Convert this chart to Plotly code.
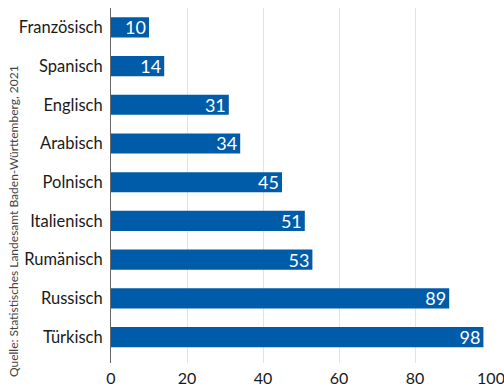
import plotly.graph_objects as go

languages = ["Französisch", "Spanisch", "Englisch", "Arabisch", "Polnisch",
             "Italienisch", "Rumänisch", "Russisch", "Türkisch"]
values = [10, 14, 31, 34, 45, 51, 53, 89, 98]
tick_vals = [0, 20, 40, 60, 80, 100]
source = "Quelle: Statistisches Landesamt Baden-Württemberg, 2021"

FONT = "Lato"
fig = go.Figure(go.Bar(
    x=values, y=languages, orientation="h",
    marker=dict(color="#005CA9", line=dict(width=0)),
    text=[str(v) for v in values], textposition="inside",
    insidetextanchor="end", textangle=0,
    textfont=dict(color="white", size=18, family=FONT),
    cliponaxis=False,
))

pw, ph = 380, 355
fig.update_layout(
    width=504, height=387,
    margin=dict(l=111, r=13, t=8, b=24, autoexpand=False),
    paper_bgcolor="white", plot_bgcolor="white",
    bargap=0.48,
    showlegend=False,
    uniformtext=dict(minsize=18, mode="show"),
    font=dict(family=FONT, color="#1a1a1a", size=16.5),
    xaxis=dict(range=[0, 100], tickvals=tick_vals, showgrid=True,
               gridcolor="#e3e3e3", gridwidth=1, zeroline=False,
               showline=False, ticks="", tickfont=dict(size=16, color="#1a1a1a"),
               automargin=False, ticklabeloverflow="allow", fixedrange=True,
               ticklabelstandoff=4),
    yaxis=dict(categoryorder="array", categoryarray=languages,
               range=[8.67, -0.5], showgrid=False, ticks="",
               showline=True, linecolor="#666666", linewidth=1, automargin=False,
               tickfont=dict(size=16.5, color="#1a1a1a"), ticklabelstandoff=4),
    annotations=[dict(text=source, textangle=-90, xref="paper", yref="paper",
                      x=(13 - 111) / pw, y=(8 - 24) / ph, showarrow=False,
                      xanchor="center", yanchor="bottom",
                      font=dict(size=12, color="#444444", family=FONT))],
)
fig.write_html("out.html")
